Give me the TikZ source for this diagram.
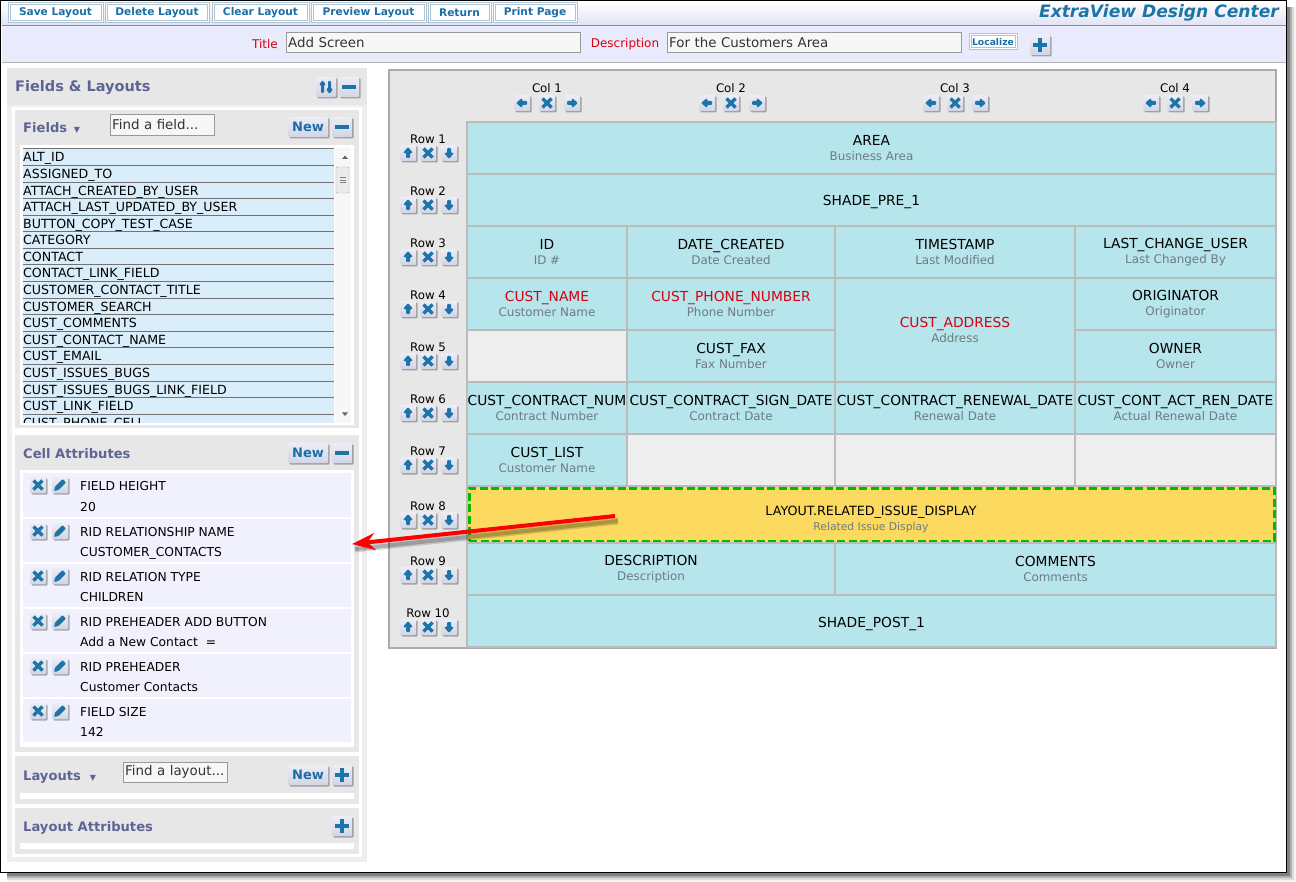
\documentclass[tikz,border=0pt]{standalone}
\usepackage{fontspec}
\setmainfont{DejaVu Sans}
\usetikzlibrary{arrows.meta,shadows}
\definecolor{iconblue}{HTML}{1C75A9}
\definecolor{btntop}{HTML}{ECEDF5}
\definecolor{btnbot}{HTML}{D3D5E4}
\definecolor{toolblue}{HTML}{1B6FA8}
\definecolor{toolline}{HTML}{AEC4D3}
\definecolor{headband}{HTML}{E9EAFC}
\definecolor{headgrey}{HTML}{5F6496}
\definecolor{panelgrey}{HTML}{E7E7E7}
\definecolor{outergrey}{HTML}{EFEFEF}
\definecolor{listblue}{HTML}{D9EEFA}
\definecolor{attrfill}{HTML}{F0F1FC}
\definecolor{cellblue}{HTML}{B6E5EC}
\definecolor{cellline}{HTML}{BBBBBB}
\definecolor{emptycell}{HTML}{EEEEEE}
\definecolor{subgrey}{HTML}{6F7B80}
\definecolor{labelred}{HTML}{D80010}
\definecolor{gold}{HTML}{FCDA60}
\definecolor{dashgreen}{HTML}{00BB00}
\newcommand{\subname}[1]{{\color{subgrey}\fontsize{11.9}{15}\selectfont #1}}
\tikzset{
	upglyph/.pic={\fill[iconblue] (0,-6) -- (5,0) -- (2,0) -- (2,5) -- (-2,5) -- (-2,0) -- (-5,0) -- cycle;},
	downglyph/.pic={\fill[iconblue] (0,6) -- (5,0) -- (2,0) -- (2,-5) -- (-2,-5) -- (-2,0) -- (-5,0) -- cycle;},
	leftglyph/.pic={\fill[iconblue] (-6,0) -- (0,-5) -- (0,-2) -- (5,-2) -- (5,2) -- (0,2) -- (0,5) -- cycle;},
	rightglyph/.pic={\fill[iconblue] (6,0) -- (0,-5) -- (0,-2) -- (-5,-2) -- (-5,2) -- (0,2) -- (0,5) -- cycle;},
	crossglyph/.pic={\draw[iconblue,line width=3.2pt] (-4.5,-4.5) -- (4.5,4.5) (-4.5,4.5) -- (4.5,-4.5);},
	penglyph/.pic={\fill[iconblue] (-6,6) -- (-5,1.5) -- (2.5,-6) -- (6,-2.5) -- (-1.5,5) -- cycle;},
	plusglyph/.pic={\draw[iconblue,line width=3.6pt] (-7,0) -- (7,0) (0,-7) -- (0,7);},
	minusglyph/.pic={\draw[iconblue,line width=3.6pt] (-7,0) -- (7,0);},
	swapglyph/.pic={\fill[iconblue] (-3.5,-7) -- (0,-2) -- (-2,-2) -- (-2,6) -- (-5,6) -- (-5,-2) -- (-7,-2) -- cycle;
		\fill[iconblue] (3.5,7) -- (0,2) -- (2,2) -- (2,-6) -- (5,-6) -- (5,2) -- (7,2) -- cycle;},
	btnface/.style={rectangle,inner sep=0pt,top color=btntop,bottom color=btnbot,rounded corners=1pt,
		drop shadow={shadow xshift=1.5pt,shadow yshift=-1.5pt,opacity=.3,fill=black}},
	iconbtn/.style={btnface,minimum size=16pt,path picture={\pic at (path picture bounding box.center) {#1};}},
	bigbtn/.style={iconbtn=#1,minimum size=20pt},
	newbtn/.style={btnface,minimum width=40pt,minimum height=20pt,text=toolblue,font=\fontsize{13}{14}\bfseries\selectfont},
	toolbtn/.style={rectangle,fill=white,draw=toolline,line width=1pt,double=white,double distance=1pt,
		inner sep=0pt,minimum height=18pt,text=toolblue,font=\fontsize{10.6}{12}\bfseries\selectfont},
	inputbox/.style={rectangle,fill=white!97!black,draw=black!40,anchor=west,inner xsep=2pt,inner ysep=0pt,
		minimum height=20pt,text width=#1,align=left,text=black!80,font=\fontsize{13.4}{15}\selectfont,
		drop shadow={shadow xshift=1pt,shadow yshift=-1pt,opacity=.3,fill=black}},
	redlabel/.style={inner sep=0pt,text=labelred,font=\fontsize{12}{14}\selectfont},
	paneltitle/.style={anchor=base west,inner sep=0pt,text=headgrey,font=\fontsize{13.1}{14}\bfseries\selectfont},
	ctllabel/.style={inner sep=0pt,font=\fontsize{11.8}{14}\selectfont},
	listrow/.style={anchor=base west,inner sep=0pt,font=\fontsize{12.6}{14}\selectfont},
	listline/.style={draw=black!55,line width=.8pt},
	attrrow/.style={fill=attrfill},
	attrtext/.style={anchor=base west,inner sep=0pt,font=\fontsize{12.3}{14}\selectfont},
	gridcell/.style={rectangle,fill=cellblue,draw=cellline,line width=2pt,inner sep=0pt,align=center,
		minimum height=52pt,font=\fontsize{13.8}{15}\selectfont},
	emptygrid/.style={gridcell,fill=emptycell},
	lowered/.style={execute at begin node={\rule{0pt}{#1}}}
}
\begin{document}
\begin{tikzpicture}[x=1pt,y=-1pt]
	\useasboundingbox (0,0) rectangle (1296,882);
	% frame with its shadow
	\fill[black!4] (7,7) rectangle (1296,882);
	\fill[black!14] (7,7) rectangle (1294,880);
	\fill[black!30] (7,7) rectangle (1292,878);
	\fill[black!50] (7,7) rectangle (1290,876);
	\draw[black,line width=1.5pt,fill=white] (0.5,0.5) rectangle (1286.5,872.5);
	% top bars
	\shade[top color=white,bottom color=black!3!headband] (1.5,1.5) rectangle (1285.5,25);
	\fill[headband] (1.5,25) rectangle (1285.5,62);
	\draw[black!45,line width=1pt] (1.5,25.5) -- (1285.5,25.5);
	\draw[black!30,line width=1pt] (1.5,62.5) -- (1285.5,62.5);
	\node[toolbtn,minimum width=93pt] (savebtn) at (55.5,13) {Save Layout};
	\node[toolbtn,minimum width=102pt] (deletebtn) at (157,13) {Delete Layout};
	\node[toolbtn,minimum width=95pt] (clearbtn) at (260.5,13) {Clear Layout};
	\node[toolbtn,minimum width=113pt] (previewbtn) at (368.5,13) {Preview Layout};
	\node[toolbtn,minimum width=61pt] (returnbtn) at (459.5,13) {Return};
	\node[toolbtn,minimum width=82pt] (printbtn) at (535,13) {Print Page};
	\node[inner sep=0pt,anchor=east,text=iconblue,font=\fontsize{17.1}{18}\bfseries\itshape\selectfont] (centertitle) at (1279,13) {ExtraView Design Center};
	\node[redlabel] (titlelabel) at (265,44) {Title};
	\node[inputbox=290pt] (titlebox) at (286,42.5) {Add Screen};
	\node[redlabel] (desclabel) at (625,44) {Description};
	\node[inputbox=290pt] (descbox) at (667,42.5) {For the Customers Area};
	\node[toolbtn,minimum width=46pt,minimum height=14pt,font=\fontsize{9.2}{10}\bfseries\selectfont] (localizebtn) at (993,42) {Localize};
	\node[bigbtn=plusglyph] (descplus) at (1040,45) {};
	% left panel
	\fill[outergrey] (7,68) rectangle (367,862);
	\fill[panelgrey] (7,68) rectangle (367,105);
	\fill[white] (12,107) rectangle (362,857);
	\node[paneltitle,font=\fontsize{14.5}{16}\bfseries\selectfont] (panelhead) at (15,92) {Fields \& Layouts};
	\node[bigbtn=swapglyph] (panelswap) at (326,87) {};
	\node[bigbtn=minusglyph] (panelminus) at (349,87) {};
	% fields
	\fill[panelgrey] (15,110) rectangle (359,428);
	\fill[white] (20,145) rectangle (354,425);
	\node[paneltitle] (fieldshead) at (23,133) {Fields \,{\fontsize{8}{8}\selectfont ▼}};
	\node[inputbox=100pt,minimum height=21pt] (fieldfind) at (110,125) {Find a field...};
	\node[newbtn] (fieldsnew) at (308,127) {New};
	\node[bigbtn=minusglyph] (fieldsminus) at (342,127) {};
	\begin{scope}
		\clip (20,145) rectangle (354,423);
		\fill[listblue] (23,148) rectangle (334,423);
		\draw[listline] (23,148) -- (334,148);
		\draw[listline] (23,165) -- (334,165);
		\draw[listline] (23,182) -- (334,182);
		\draw[listline] (23,198) -- (334,198);
		\draw[listline] (23,215) -- (334,215);
		\draw[listline] (23,231) -- (334,231);
		\draw[listline] (23,248) -- (334,248);
		\draw[listline] (23,264) -- (334,264);
		\draw[listline] (23,281) -- (334,281);
		\draw[listline] (23,298) -- (334,298);
		\draw[listline] (23,314) -- (334,314);
		\draw[listline] (23,331) -- (334,331);
		\draw[listline] (23,347) -- (334,347);
		\draw[listline] (23,364) -- (334,364);
		\draw[listline] (23,381) -- (334,381);
		\draw[listline] (23,397) -- (334,397);
		\draw[listline] (23,414) -- (334,414);
		\node[listrow] (f1) at (23,162) {ALT\_ID};
		\node[listrow] (f2) at (23,178.5) {ASSIGNED\_TO};
		\node[listrow] (f3) at (23,195.5) {ATTACH\_CREATED\_BY\_USER};
		\node[listrow] (f4) at (23,211.5) {ATTACH\_LAST\_UPDATED\_BY\_USER};
		\node[listrow] (f5) at (23,228.5) {BUTTON\_COPY\_TEST\_CASE};
		\node[listrow] (f6) at (23,244.5) {CATEGORY};
		\node[listrow] (f7) at (23,261.5) {CONTACT};
		\node[listrow] (f8) at (23,278) {CONTACT\_LINK\_FIELD};
		\node[listrow] (f9) at (23,294.5) {CUSTOMER\_CONTACT\_TITLE};
		\node[listrow] (f10) at (23,311.5) {CUSTOMER\_SEARCH};
		\node[listrow] (f11) at (23,327.5) {CUST\_COMMENTS};
		\node[listrow] (f12) at (23,344.5) {CUST\_CONTACT\_NAME};
		\node[listrow] (f13) at (23,360.5) {CUST\_EMAIL};
		\node[listrow] (f14) at (23,377.5) {CUST\_ISSUES\_BUGS};
		\node[listrow] (f15) at (23,394.5) {CUST\_ISSUES\_BUGS\_LINK\_FIELD};
		\node[listrow] (f16) at (23,410.5) {CUST\_LINK\_FIELD};
		\node[listrow] (f17) at (23,427.5) {CUST\_PHONE\_CELL};
	\end{scope}
	% scroll bar
	\fill[black!3] (335,148) rectangle (351,423);
	\fill[black!60] (342,159) -- (345,155.5) -- (348,159) -- cycle;
	\fill[black!60] (342,412.5) -- (345,416) -- (348,412.5) -- cycle;
	\draw[black!35,fill=black!8,rounded corners=1pt] (336,167) rectangle (349,193);
	\draw[black!50] (339.5,177.5) -- (345.5,177.5) (339.5,180) -- (345.5,180) (339.5,182.5) -- (345.5,182.5);
	% cell attributes
	\fill[panelgrey] (15,435) rectangle (359,752);
	\fill[white] (20,470) rectangle (354,747);
	\node[paneltitle] (attrhead) at (23,458) {Cell Attributes};
	\node[newbtn] (attrnew) at (308,453) {New};
	\node[bigbtn=minusglyph] (attrminus) at (342,453) {};
	\fill[attrrow] (23,473) rectangle (351,517);
	\fill[attrrow] (23,519) rectangle (351,562);
	\fill[attrrow] (23,564) rectangle (351,607);
	\fill[attrrow] (23,609) rectangle (351,652);
	\fill[attrrow] (23,654) rectangle (351,697);
	\fill[attrrow] (23,699) rectangle (351,742);
	\node[iconbtn=crossglyph] (ax1) at (38,485) {};
	\node[iconbtn=penglyph] (ap1) at (60,485) {};
	\node[attrtext] (ak1) at (80,490) {FIELD HEIGHT};
	\node[attrtext] (av1) at (80,511) {20};
	\node[iconbtn=crossglyph] (ax2) at (38,531) {};
	\node[iconbtn=penglyph] (ap2) at (60,531) {};
	\node[attrtext] (ak2) at (80,536) {RID RELATIONSHIP NAME};
	\node[attrtext] (av2) at (80,556) {CUSTOMER\_CONTACTS};
	\node[iconbtn=crossglyph] (ax3) at (38,576) {};
	\node[iconbtn=penglyph] (ap3) at (60,576) {};
	\node[attrtext] (ak3) at (80,581) {RID RELATION TYPE};
	\node[attrtext] (av3) at (80,601) {CHILDREN};
	\node[iconbtn=crossglyph] (ax4) at (38,621) {};
	\node[iconbtn=penglyph] (ap4) at (60,621) {};
	\node[attrtext] (ak4) at (80,626) {RID PREHEADER ADD BUTTON};
	\node[attrtext] (av4) at (80,646) {Add a New Contact\,\, =};
	\node[iconbtn=crossglyph] (ax5) at (38,666) {};
	\node[iconbtn=penglyph] (ap5) at (60,666) {};
	\node[attrtext] (ak5) at (80,671) {RID PREHEADER};
	\node[attrtext] (av5) at (80,691) {Customer Contacts};
	\node[iconbtn=crossglyph] (ax6) at (38,711) {};
	\node[iconbtn=penglyph] (ap6) at (60,711) {};
	\node[attrtext] (ak6) at (80,716) {FIELD SIZE};
	\node[attrtext] (av6) at (80,736) {142};
	% layouts
	\fill[panelgrey] (15,756) rectangle (359,804);
	\fill[white] (20,793) rectangle (354,799);
	\node[paneltitle] (layouthead) at (23,780) {Layouts \,\,{\fontsize{8}{8}\selectfont ▼}};
	\node[inputbox=100pt] (layoutfind) at (123,772) {Find a layout...};
	\node[newbtn] (layoutnew) at (308,775) {New};
	\node[bigbtn=plusglyph] (layoutplus) at (342,775) {};
	\fill[panelgrey] (15,808) rectangle (359,854);
	\fill[white] (20,843) rectangle (354,849);
	\node[paneltitle] (layoutattr) at (23,831) {Layout Attributes};
	\node[bigbtn=plusglyph] (layoutattrplus) at (342,826) {};
	% grid
	\draw[black!33,line width=2.5pt,fill=panelgrey] (389,70) rectangle (1276,648);
	\node[ctllabel] (col1) at (547,88) {Col 1};
	\node[iconbtn=leftglyph] (col1l) at (522,103) {};
	\node[iconbtn=crossglyph] (col1x) at (547,103) {};
	\node[iconbtn=rightglyph] (col1r) at (572,103) {};
	\node[ctllabel] (col2) at (731,88) {Col 2};
	\node[iconbtn=leftglyph] (col2l) at (707,103) {};
	\node[iconbtn=crossglyph] (col2x) at (731,103) {};
	\node[iconbtn=rightglyph] (col2r) at (757,103) {};
	\node[ctllabel] (col3) at (955,88) {Col 3};
	\node[iconbtn=leftglyph] (col3l) at (931,103) {};
	\node[iconbtn=crossglyph] (col3x) at (955,103) {};
	\node[iconbtn=rightglyph] (col3r) at (980,103) {};
	\node[ctllabel] (col4) at (1175,88) {Col 4};
	\node[iconbtn=leftglyph] (col4l) at (1151,103) {};
	\node[iconbtn=crossglyph] (col4x) at (1175,103) {};
	\node[iconbtn=rightglyph] (col4r) at (1200,103) {};
	\node[ctllabel] (row1) at (428,139) {Row 1};
	\node[iconbtn=upglyph] (row1u) at (408,153) {};
	\node[iconbtn=crossglyph] (row1x) at (428,153) {};
	\node[iconbtn=downglyph] (row1d) at (449,153) {};
	\node[ctllabel] (row2) at (428,191) {Row 2};
	\node[iconbtn=upglyph] (row2u) at (408,205) {};
	\node[iconbtn=crossglyph] (row2x) at (428,205) {};
	\node[iconbtn=downglyph] (row2d) at (449,205) {};
	\node[ctllabel] (row3) at (428,243) {Row 3};
	\node[iconbtn=upglyph] (row3u) at (408,257) {};
	\node[iconbtn=crossglyph] (row3x) at (428,257) {};
	\node[iconbtn=downglyph] (row3d) at (449,257) {};
	\node[ctllabel] (row4) at (428,295) {Row 4};
	\node[iconbtn=upglyph] (row4u) at (408,309) {};
	\node[iconbtn=crossglyph] (row4x) at (428,309) {};
	\node[iconbtn=downglyph] (row4d) at (449,309) {};
	\node[ctllabel] (row5) at (428,347) {Row 5};
	\node[iconbtn=upglyph] (row5u) at (408,361) {};
	\node[iconbtn=crossglyph] (row5x) at (428,361) {};
	\node[iconbtn=downglyph] (row5d) at (449,361) {};
	\node[ctllabel] (row6) at (428,399) {Row 6};
	\node[iconbtn=upglyph] (row6u) at (408,413) {};
	\node[iconbtn=crossglyph] (row6x) at (428,413) {};
	\node[iconbtn=downglyph] (row6d) at (449,413) {};
	\node[ctllabel] (row7) at (428,451) {Row 7};
	\node[iconbtn=upglyph] (row7u) at (408,465) {};
	\node[iconbtn=crossglyph] (row7x) at (428,465) {};
	\node[iconbtn=downglyph] (row7d) at (449,465) {};
	\node[ctllabel] (row8) at (428,506) {Row 8};
	\node[iconbtn=upglyph] (row8u) at (408,520) {};
	\node[iconbtn=crossglyph] (row8x) at (428,520) {};
	\node[iconbtn=downglyph] (row8d) at (449,520) {};
	\node[ctllabel] (row9) at (428,561) {Row 9};
	\node[iconbtn=upglyph] (row9u) at (408,575) {};
	\node[iconbtn=crossglyph] (row9x) at (428,575) {};
	\node[iconbtn=downglyph] (row9d) at (449,575) {};
	\node[ctllabel] (row10) at (428,613) {Row 10};
	\node[iconbtn=upglyph] (row10u) at (408,627) {};
	\node[iconbtn=crossglyph] (row10x) at (428,627) {};
	\node[iconbtn=downglyph] (row10d) at (449,627) {};
	% cells
	\node[gridcell,minimum width=809pt] (area) at (871.5,148) {AREA\\\subname{Business Area}};
	\node[gridcell,lowered=15pt,minimum width=809pt] (shadepre) at (871.5,200) {SHADE\_PRE\_1};
	\node[gridcell,minimum width=160pt] (idcell) at (547,252) {ID\\\subname{ID \#}};
	\node[gridcell,minimum width=208pt] (datecreated) at (731,252) {DATE\_CREATED\\\subname{Date Created}};
	\node[gridcell,minimum width=240pt] (timestamp) at (955,252) {TIMESTAMP\\\subname{Last Modified}};
	\node[gridcell,minimum width=201pt] (lastchange) at (1175.5,252) {LAST\_CHANGE\_USER\\\subname{Last Changed By}};
	\node[gridcell,minimum width=160pt] (custname) at (547,304) {\textcolor{labelred}{CUST\_NAME}\\\subname{Customer Name}};
	\node[gridcell,minimum width=208pt] (custphone) at (731,304) {\textcolor{labelred}{CUST\_PHONE\_NUMBER}\\\subname{Phone Number}};
	\node[gridcell,minimum width=240pt,minimum height=104pt] (custaddress) at (955,330) {\textcolor{labelred}{CUST\_ADDRESS}\\\subname{Address}};
	\node[gridcell,minimum width=201pt] (originator) at (1175.5,304) {ORIGINATOR\\\subname{Originator}};
	\node[emptygrid,minimum width=160pt] (empty5a) at (547,356) {};
	\node[gridcell,minimum width=208pt] (custfax) at (731,356) {CUST\_FAX\\\subname{Fax Number}};
	\node[gridcell,minimum width=201pt] (owner) at (1175.5,356) {OWNER\\\subname{Owner}};
	\node[gridcell,minimum width=160pt] (contractnum) at (547,408) {CUST\_CONTRACT\_NUM\\\subname{Contract Number}};
	\node[gridcell,minimum width=208pt] (contractsign) at (731,408) {CUST\_CONTRACT\_SIGN\_DATE\\\subname{Contract Date}};
	\node[gridcell,minimum width=240pt] (contractrenew) at (955,408) {CUST\_CONTRACT\_RENEWAL\_DATE\\\subname{Renewal Date}};
	\node[gridcell,minimum width=201pt] (contractact) at (1175.5,408) {CUST\_CONT\_ACT\_REN\_DATE\\\subname{Actual Renewal Date}};
	\node[gridcell,minimum width=160pt] (custlist) at (547,460) {CUST\_LIST\\\subname{Customer Name}};
	\node[emptygrid,minimum width=208pt] (empty7b) at (731,460) {};
	\node[emptygrid,minimum width=240pt] (empty7c) at (955,460) {};
	\node[emptygrid,minimum width=201pt] (empty7d) at (1175.5,460) {};
	\node[gridcell,fill=gold,minimum width=809pt,minimum height=57pt] (layoutcell) at (871.5,514.5) {};
	\node[rectangle,draw=dashgreen,line width=3pt,dash pattern=on 8pt off 3.5pt,inner sep=0pt,minimum width=805pt,minimum height=53pt] (layoutbox) at (871.5,514.5) {};
	\node[inner sep=0pt,align=center,font=\fontsize{12.7}{15}\selectfont] (layouttext) at (871,519) {LAYOUT.RELATED\_ISSUE\_DISPLAY\\\subname{\fontsize{10.75}{15}\selectfont Related Issue Display}};
	\node[gridcell,lowered=18pt,minimum width=368pt] (description) at (651,569) {DESCRIPTION\\\subname{Description}};
	\node[gridcell,lowered=18pt,minimum width=441pt] (comments) at (1055.5,569) {COMMENTS\\\subname{Comments}};
	\node[gridcell,lowered=17pt,minimum width=809pt] (shadepost) at (871.5,621) {SHADE\_POST\_1};
	% arrow
	\coordinate (arrowstart) at (615,516);
	\coordinate (arrowtip) at (352,544);
	\draw[black,opacity=.15,line width=7pt,transform canvas={shift={(3pt,-5pt)}}] (arrowstart) -- (arrowtip);
	\draw[black,opacity=.2,line width=4pt,transform canvas={shift={(3pt,-5pt)}}] (arrowstart) -- (arrowtip);
	\draw[red,line width=4pt,-{Stealth[length=23pt,width=17pt]}] (arrowstart) -- (arrowtip);
\end{tikzpicture}
\end{document}
